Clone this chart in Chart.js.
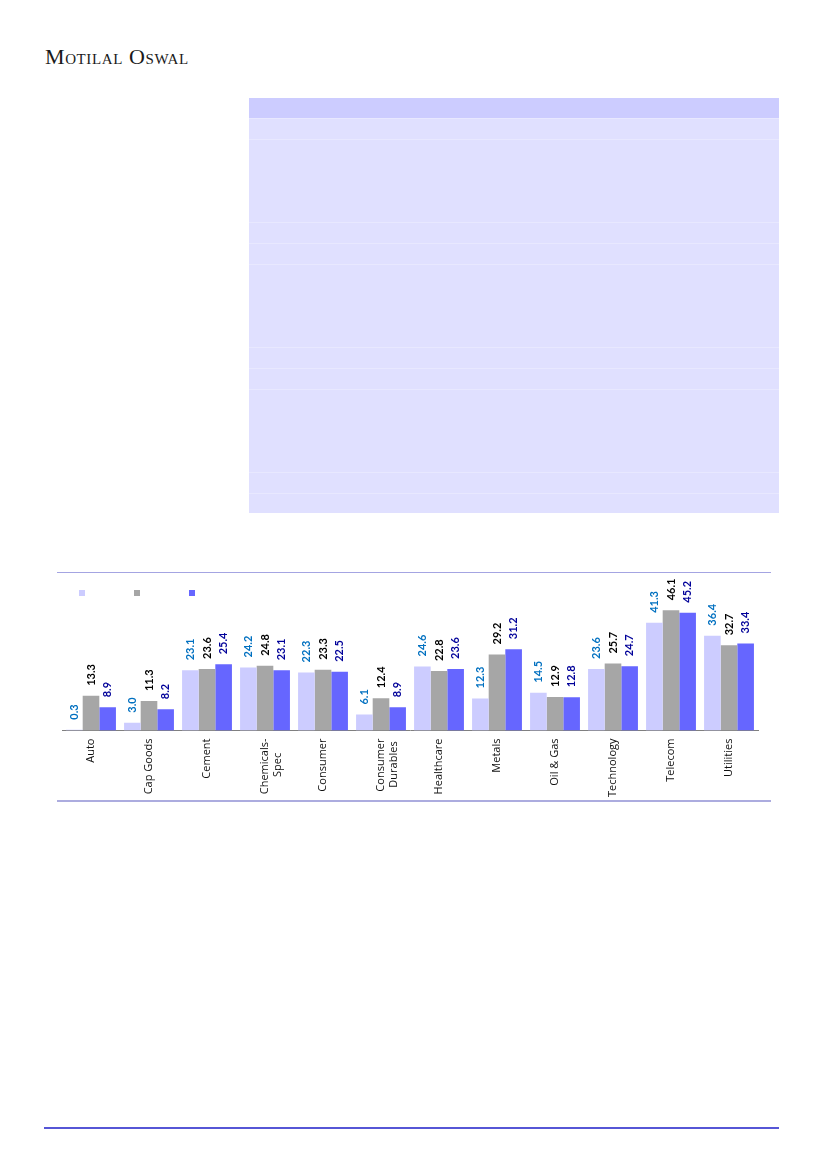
<!DOCTYPE html>
<html>
<head>
<meta charset="utf-8">
<script src="https://cdn.jsdelivr.net/npm/chart.js@4/dist/chart.umd.min.js"></script>
<style>
  body { margin: 0; background: #fff; }
  .page { position: relative; width: 827px; height: 1169px; overflow: hidden; }
  .brand { position: absolute; left: 45px; top: 44px; font-family: "Liberation Serif", "DejaVu Serif", serif;
           font-size: 22px; font-variant: small-caps; letter-spacing: 0.6px; color: #1a1a1a; }
  .tbl { position: absolute; left: 249px; top: 98px; width: 530px; }
  .tbl div { background: #e0e0ff; border-top: 1px solid #e8e8ff; box-sizing: border-box; }
  .tbl .hd { background: #ccccff; border-top: none; }
  .rule { position: absolute; }
  #wrap { position: absolute; left: 35px; top: 544px; width: 736px; height: 265px; }
</style>
</head>
<body>
<div class="page">
  <div class="brand">Motilal Oswal</div>

  <div class="tbl" id="tbl"></div>

  <div class="rule" style="left:57px;top:572px;width:714px;height:1px;background:#a4a4e2"></div>
  <div id="wrap"><canvas id="grafica"></canvas></div>
  <div class="rule" style="left:57px;top:800px;width:714px;height:2px;background:#acacdf"></div>

  <div class="rule" style="left:44px;top:1127px;width:735px;height:2px;background:#5656d6"></div>
</div>

<script>
// filas de la tabla (alto en px)
const filas = [20, 21, 83, 21, 21, 83, 21, 21, 83, 21, 20]
const tbl = document.getElementById('tbl')
filas.forEach((alto, i) => {
  const d = document.createElement('div')
  if (i === 0) d.className = 'hd'
  d.style.height = alto + 'px'
  tbl.appendChild(d)
})

// las lineas cortas llevan espacios al final para quedar centradas
const sectores = ['Auto', 'Cap Goods', 'Cement', ['Chemicals-', 'Spec     '], 'Consumer',
  ['Consumer', 'Durables '], 'Healthcare', 'Metals', 'Oil & Gas', 'Technology', 'Telecom', 'Utilities']

const serie1 = [0.3, 3.0, 23.1, 24.2, 22.3, 6.1, 24.6, 12.3, 14.5, 23.6, 41.3, 36.4]
const serie2 = [13.3, 11.3, 23.6, 24.8, 23.3, 12.4, 22.8, 29.2, 12.9, 25.7, 46.1, 32.7]
const serie3 = [8.9, 8.2, 25.4, 23.1, 22.5, 8.9, 23.6, 31.2, 12.8, 24.7, 45.2, 33.4]

const coloresBarra = ['#ccccff', '#a6a6a6', '#6666ff']
const coloresTexto = ['#0070c0', '#000000', '#000099']

// etiquetas de valor giradas encima de cada barra
const etiquetasValor = {
  id: 'etiquetasValor',
  afterDatasetsDraw(chart) {
    const ctx = chart.ctx
    chart.data.datasets.forEach((ds, i) => {
      chart.getDatasetMeta(i).data.forEach((bar, j) => {
        ctx.save()
        ctx.translate(bar.x, bar.y - 10)
        ctx.rotate(-Math.PI / 2)
        ctx.font = 'bold 11px Lato'
        ctx.fillStyle = coloresTexto[i]
        ctx.textAlign = 'left'
        ctx.textBaseline = 'middle'
        ctx.fillText(ds.data[j].toFixed(1), 0, 0)
        ctx.restore()
      })
    })
  }
}

const ctx = document.getElementById('grafica').getContext('2d')

new Chart(ctx, {
  type: 'bar',
  data: {
    labels: sectores,
    datasets: [serie1, serie2, serie3].map((s, i) => ({
      label: 'Serie ' + (i + 1),
      data: s,
      backgroundColor: coloresBarra[i],
      barPercentage: 1.0,
      categoryPercentage: 0.86
    }))
  },
  options: {
    responsive: true,
    maintainAspectRatio: false,
    animation: false,
    layout: { padding: { left: 0, right: 13, top: 0, bottom: 4 } },
    plugins: {
      tooltip: { enabled: false },
      legend: {
        position: 'top',
        align: 'start',
        labels: {
          boxWidth: 6,
          boxHeight: 6,
          padding: 44,
          font: { size: 10 },
          generateLabels: (chart) => chart.data.datasets.map((ds, i) => ({
            text: '',
            fillStyle: ds.backgroundColor,
            strokeStyle: ds.backgroundColor,
            lineWidth: 0,
            datasetIndex: i
          }))
        }
      }
    },
    scales: {
      x: {
        grid: { display: false, drawTicks: false },
        border: { color: '#808080', width: 1 },
        ticks: {
          color: '#111',
          font: { family: 'Open Sans', size: 11 },
          minRotation: 90,
          maxRotation: 90,
          padding: 8,
          autoSkip: false
        }
      },
      y: {
        min: 0,
        max: 47,
        grid: { display: false },
        border: { display: false },
        ticks: { display: false },
        afterFit: (scale) => { scale.width = 27 }
      }
    }
  },
  plugins: [etiquetasValor]
})
</script>
</body>
</html>
